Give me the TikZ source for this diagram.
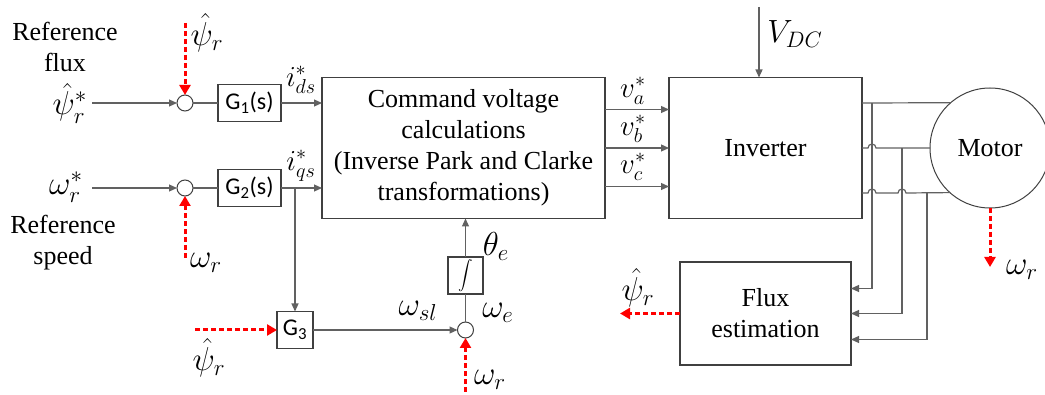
\documentclass[tikz,border=0pt]{standalone}
\usepackage{graphicx}
\usepackage{fontspec}
\setmainfont{Liberation Serif}
\newfontfamily\gfont{Carlito}
\newcommand\mathlbl[2]{\scalebox{#1}{$#2$}}
\usetikzlibrary{arrows.meta,calc}
\begin{document}
\begin{tikzpicture}[x=1pt,y=-1pt,
  ln/.style={draw=black!62, line width=1.2pt},
  arr/.style={ln,-{Triangle[length=8pt,width=7pt]}},
  redarr/.style={draw=red, line width=3pt, dash pattern=on 5pt off 3pt, -{Triangle[length=10pt,width=11pt]}},
  box/.style={draw=black!75, line width=1.2pt, rectangle, inner sep=0pt, outer sep=0pt},
  sumc/.style={draw=black!75, line width=1pt, circle, minimum size=16pt, inner sep=0pt, outer sep=0pt, fill=white},
  txt/.style={font=\fontsize{26}{31}\selectfont, align=center},
  gtxt/.style={font=\gfont\fontsize{24}{28}\selectfont},
  mlbl/.style={font=\fontsize{20.74}{24}\selectfont, inner sep=0pt},
]
\useasboundingbox (0,0) rectangle (1045,395);
\clip (0,0) rectangle (1045,395);

% blocks
\node[sumc] (s1) at (185,103) {};
\node[box, minimum width=63pt, minimum height=37pt, gtxt] (g1) at (249.5,103) {G\textsubscript{1}(s)};
\node[sumc] (s2) at (185,188) {};
\node[box, minimum width=63pt, minimum height=37pt, gtxt] (g2) at (249.5,188) {G\textsubscript{2}(s)};
\node[box, minimum width=283pt, minimum height=141pt, txt] (cmd) at (463.5,148) {Command voltage\\calculations\\(Inverse Park and Clarke\\transformations)};
\node[box, minimum width=193pt, minimum height=141pt, txt] (inv) at (765.5,148) {Inverter};
\node[draw=black!75, line width=1pt, circle, minimum size=120pt, inner sep=0pt, outer sep=0pt, txt] (motor) at (990,148) {Motor};
\node[box, minimum width=171pt, minimum height=103pt, txt] (flux) at (765.5,313.5) {Flux\\estimation};
\node[box, minimum width=36pt, minimum height=37pt, gtxt] (g3) at (295,330) {G\textsubscript{3}};
\node[sumc] (s3) at (465.5,330) {};
\node[box, minimum width=35pt, minimum height=37pt] (int) at (465.5,275.5) {\mathlbl{1.45}{\displaystyle\int}};

% free ends and junctions
\coordinate (in1) at (92,103);
\coordinate (in2) at (92,188);
\coordinate (r1) at (185,23);
\coordinate (r2) at (185,258);
\coordinate (r3) at (195,330);
\coordinate (r4) at (465.5,392);
\coordinate (vdc) at (759,7);
\coordinate (fo) at (620,313.5);
\coordinate (mo) at (990,267);
\coordinate (ja) at (872,103);
\coordinate (jb) at (902,148);
\coordinate (jc) at (927,193);
\coordinate (fa) at ($(flux.east)+(0,-25)$);
\coordinate (fc) at ($(flux.east)+(0,26)$);

% connectors
\draw[arr] (in1) -- (s1);
\draw[ln] (s1) -- (g1);
\draw[arr] (g1.east) -- (g1.east -| cmd.west);
\draw[arr] (in2) -- (s2);
\draw[ln] (s2) -- (g2);
\draw[arr] (g2.east) -- (g2.east -| cmd.west);
\draw[arr] (g3.north |- g2.east) -- (g3.north);
\draw[arr] (g3) -- (s3);
\draw[ln] (s3) -- (int);
\draw[arr] (int) -- (cmd.south -| int);
\draw[arr] ($(cmd.east)+(0,-38.5)$) -- ($(inv.west)+(0,-38.5)$);
\draw[arr] (cmd.east) -- (inv.west);
\draw[arr] ($(cmd.east)+(0,38.5)$) -- ($(inv.west)+(0,38.5)$);
\draw[arr] (vdc) -- (vdc |- inv.north);

% inverter to motor
\draw[ln] (inv.east |- ja) -- (motor.131.4);
\draw[ln] (inv.east) -- ++(6,0) arc[start angle=180,end angle=0,radius=4pt] -- (motor.west);
\draw[ln] (inv.east |- jc) -- ++(6,0) arc[start angle=180,end angle=0,radius=4pt] -- ++(22,0) arc[start angle=180,end angle=0,radius=4pt] -- (motor.228.6);
\draw[arr] (ja) -- (ja |- fa) -- (fa);
\draw[arr] (jb) -- (jb |- flux.east) -- (flux.east);
\draw[arr] (jc) -- (jc |- fc) -- (fc);

% red feedback signals
\draw[redarr] (r1) -- (s1);
\draw[redarr] (r2) -- (s2);
\draw[redarr] (r3) -- (g3);
\draw[redarr] (r4) -- (s3);
\draw[redarr] (flux) -- (fo);
\draw[redarr] (motor) -- (mo);

% labels
\node[txt] (lref1) at (65,47) {Reference\\flux};
\node[txt] (lref2) at (63,243) {Reference\\speed};
\node[mlbl] (lpsis) at (70,103) {\mathlbl{1.6}{\hat{\psi}^{*}_{r}}};
\node[mlbl] (loms) at (66,187) {\mathlbl{1.6}{\omega^{*}_{r}}};
\node[mlbl] (lpsi1) at (207,33) {\mathlbl{1.6}{\hat{\psi}_{r}}};
\node[mlbl] (lom1) at (206,263) {\mathlbl{1.6}{\omega_{r}}};
\node[mlbl] (lids) at (301,80) {\mathlbl{1.4}{i^{*}_{ds}}};
\node[mlbl] (liqs) at (301,166) {\mathlbl{1.4}{i^{*}_{qs}}};
\node[mlbl] (lpsi2) at (209,358) {\mathlbl{1.6}{\hat{\psi}_{r}}};
\node[mlbl] (loms1) at (418,311) {\mathlbl{1.6}{\omega_{sl}}};
\node[mlbl] (lome) at (498,313) {\mathlbl{1.6}{\omega_{e}}};
\node[mlbl] (lthe) at (496,246) {\mathlbl{1.6}{\theta_{e}}};
\node[mlbl] (lom2) at (490,380) {\mathlbl{1.6}{\omega_{r}}};
\node[mlbl] (lvdc) at (795,34) {\mathlbl{1.55}{V_{DC}}};
\node[mlbl] (lva) at (633,91) {\mathlbl{1.4}{v^{*}_{a}}};
\node[mlbl] (lvb) at (633,129) {\mathlbl{1.4}{v^{*}_{b}}};
\node[mlbl] (lvc) at (633,167) {\mathlbl{1.4}{v^{*}_{c}}};
\node[mlbl] (lpsi3) at (638,288) {\mathlbl{1.6}{\hat{\psi}_{r}}};
\node[mlbl] (lom3) at (1022,270) {\mathlbl{1.6}{\omega_{r}}};
\end{tikzpicture}
\end{document}
